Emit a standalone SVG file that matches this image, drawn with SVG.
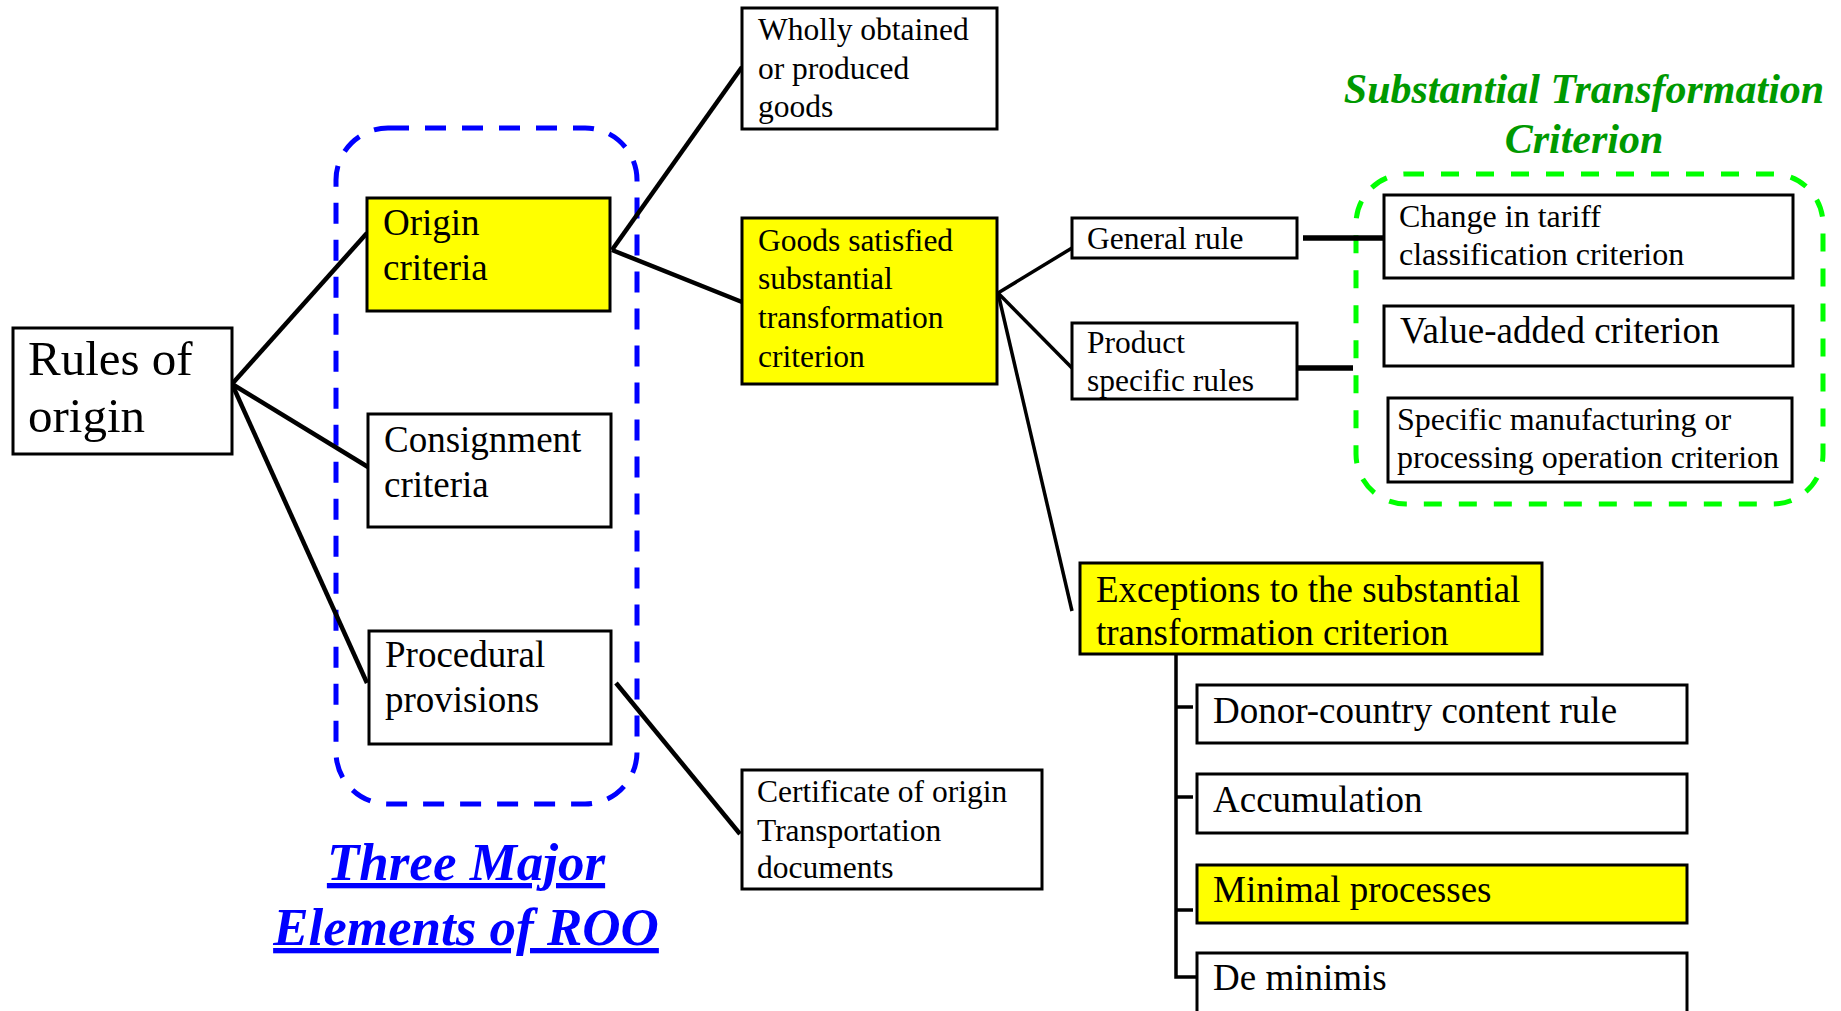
<svg xmlns="http://www.w3.org/2000/svg" width="1841" height="1011" viewBox="0 0 1841 1011">
<style>
.box{fill:#fff;stroke:#000;stroke-width:3}
.yel{fill:#ffff00;stroke:#000;stroke-width:3}
.t{font-family:"Liberation Serif","Times New Roman",serif;fill:#000}
.conn{stroke:#000;stroke-width:4.5;fill:none;stroke-linecap:butt}
.thin{stroke-width:3.5}
.thick{stroke-width:5.5}
.blue{fill:none;stroke:#0000ff;stroke-width:5;stroke-dasharray:21 16}
.green{fill:none;stroke:#00ff00;stroke-width:5;stroke-dasharray:18 17}
.ttl{font-family:"Liberation Serif","Times New Roman",serif;font-weight:bold;font-style:italic}
</style>
<rect width="1841" height="1011" fill="#fff"/>
<g id="groups">
<rect id="three-major-frame" class="blue" x="336" y="128" width="301" height="676" rx="52" ry="52"/>
<rect id="stc-frame" class="green" x="1356" y="174" width="467" height="330" rx="50" ry="50"/>
</g>
<g id="connectors">
<line class="conn" x1="232" y1="384" x2="367" y2="233"/>
<line class="conn" x1="232" y1="384" x2="368" y2="467"/>
<line class="conn" x1="232" y1="384" x2="367" y2="683"/>
<line class="conn" x1="612" y1="250" x2="742" y2="67"/>
<line class="conn" x1="612" y1="250" x2="742" y2="302"/>
<line class="conn" x1="616" y1="683" x2="740" y2="834"/>
<line class="conn thin" x1="998" y1="293" x2="1072" y2="248"/>
<line class="conn thin" x1="998" y1="293" x2="1072" y2="368"/>
<line class="conn thin" x1="998" y1="293" x2="1072" y2="611"/>
<line class="conn thick" x1="1303" y1="238" x2="1384" y2="238"/>
<line class="conn thick" x1="1298" y1="368" x2="1353" y2="368"/>
<path class="conn thin" d="M1176,655 V977 H1197 M1176,707 H1193 M1176,797 H1193 M1176,910 H1193"/>
</g>
<g id="rules-of-origin">
<rect class="box" x="13" y="328" width="219" height="126"/>
<text class="t" font-size="49" x="28" y="375">Rules of</text>
<text class="t" font-size="49" x="28" y="432">origin</text>
</g>
<g id="origin-criteria">
<rect class="yel" x="367" y="198" width="243" height="113"/>
<text class="t" font-size="37" x="383" y="235">Origin</text>
<text class="t" font-size="37" x="383" y="280">criteria</text>
</g>
<g id="consignment-criteria">
<rect class="box" x="368" y="414" width="243" height="113"/>
<text class="t" font-size="37" x="384" y="452">Consignment</text>
<text class="t" font-size="37" x="384" y="497">criteria</text>
</g>
<g id="procedural-provisions">
<rect class="box" x="369" y="631" width="242" height="113"/>
<text class="t" font-size="37" x="385" y="667">Procedural</text>
<text class="t" font-size="37" x="385" y="712">provisions</text>
</g>
<g id="three-major-label">
<text class="ttl" font-size="53" fill="#0000ff" text-anchor="middle" text-decoration="underline" x="466" y="880">Three Major</text>
<text class="ttl" font-size="53" fill="#0000ff" text-anchor="middle" text-decoration="underline" x="466" y="945">Elements of ROO</text>
</g>
<g id="wholly-obtained">
<rect class="box" x="742" y="8" width="255" height="121"/>
<text class="t" font-size="31.5" x="758" y="40">Wholly obtained</text>
<text class="t" font-size="31.5" x="758" y="79">or produced</text>
<text class="t" font-size="31.5" x="758" y="117">goods</text>
</g>
<g id="goods-satisfied">
<rect class="yel" x="742" y="218" width="255" height="166"/>
<text class="t" font-size="31.5" x="758" y="251">Goods satisfied</text>
<text class="t" font-size="31.5" x="758" y="289">substantial</text>
<text class="t" font-size="31.5" x="758" y="328">transformation</text>
<text class="t" font-size="31.5" x="758" y="367">criterion</text>
</g>
<g id="certificate">
<rect class="box" x="742" y="770" width="300" height="119"/>
<text class="t" font-size="31.5" x="757" y="802">Certificate of origin</text>
<text class="t" font-size="31.5" x="757" y="841">Transportation</text>
<text class="t" font-size="31.5" x="757" y="878">documents</text>
</g>
<g id="general-rule">
<rect class="box" x="1072" y="218" width="225" height="40"/>
<text class="t" font-size="31.5" x="1087" y="249">General rule</text>
</g>
<g id="product-specific">
<rect class="box" x="1072" y="323" width="225" height="76"/>
<text class="t" font-size="31.5" x="1087" y="353">Product</text>
<text class="t" font-size="31.5" x="1087" y="391">specific rules</text>
</g>
<g id="stc-title">
<text class="ttl" font-size="42" fill="#009900" text-anchor="middle" x="1584" y="103">Substantial Transformation</text>
<text class="ttl" font-size="42" fill="#009900" text-anchor="middle" x="1584" y="153">Criterion</text>
</g>
<g id="change-tariff">
<rect class="box" x="1384" y="195" width="409" height="83"/>
<text class="t" font-size="32" x="1399" y="227">Change in tariff</text>
<text class="t" font-size="32" x="1399" y="265">classification criterion</text>
</g>
<g id="value-added">
<rect class="box" x="1384" y="306" width="409" height="60"/>
<text class="t" font-size="37" x="1400" y="343">Value-added criterion</text>
</g>
<g id="specific-manufacturing">
<rect class="box" x="1388" y="398" width="404" height="84"/>
<text class="t" font-size="32" x="1397" y="430">Specific manufacturing or</text>
<text class="t" font-size="32" x="1397" y="468">processing operation criterion</text>
</g>
<g id="exceptions">
<rect class="yel" x="1080" y="563" width="462" height="91"/>
<text class="t" font-size="37" x="1096" y="602">Exceptions to the substantial</text>
<text class="t" font-size="37" x="1096" y="645">transformation criterion</text>
</g>
<g id="donor-country">
<rect class="box" x="1197" y="685" width="490" height="58"/>
<text class="t" font-size="37" x="1213" y="723">Donor-country content rule</text>
</g>
<g id="accumulation">
<rect class="box" x="1197" y="774" width="490" height="59"/>
<text class="t" font-size="37" x="1213" y="812">Accumulation</text>
</g>
<g id="minimal-processes">
<rect class="yel" x="1197" y="865" width="490" height="58"/>
<text class="t" font-size="37" x="1213" y="902">Minimal processes</text>
</g>
<g id="de-minimis">
<rect class="box" x="1197" y="953" width="490" height="70"/>
<text class="t" font-size="37" x="1213" y="990">De minimis</text>
</g>
</svg>
